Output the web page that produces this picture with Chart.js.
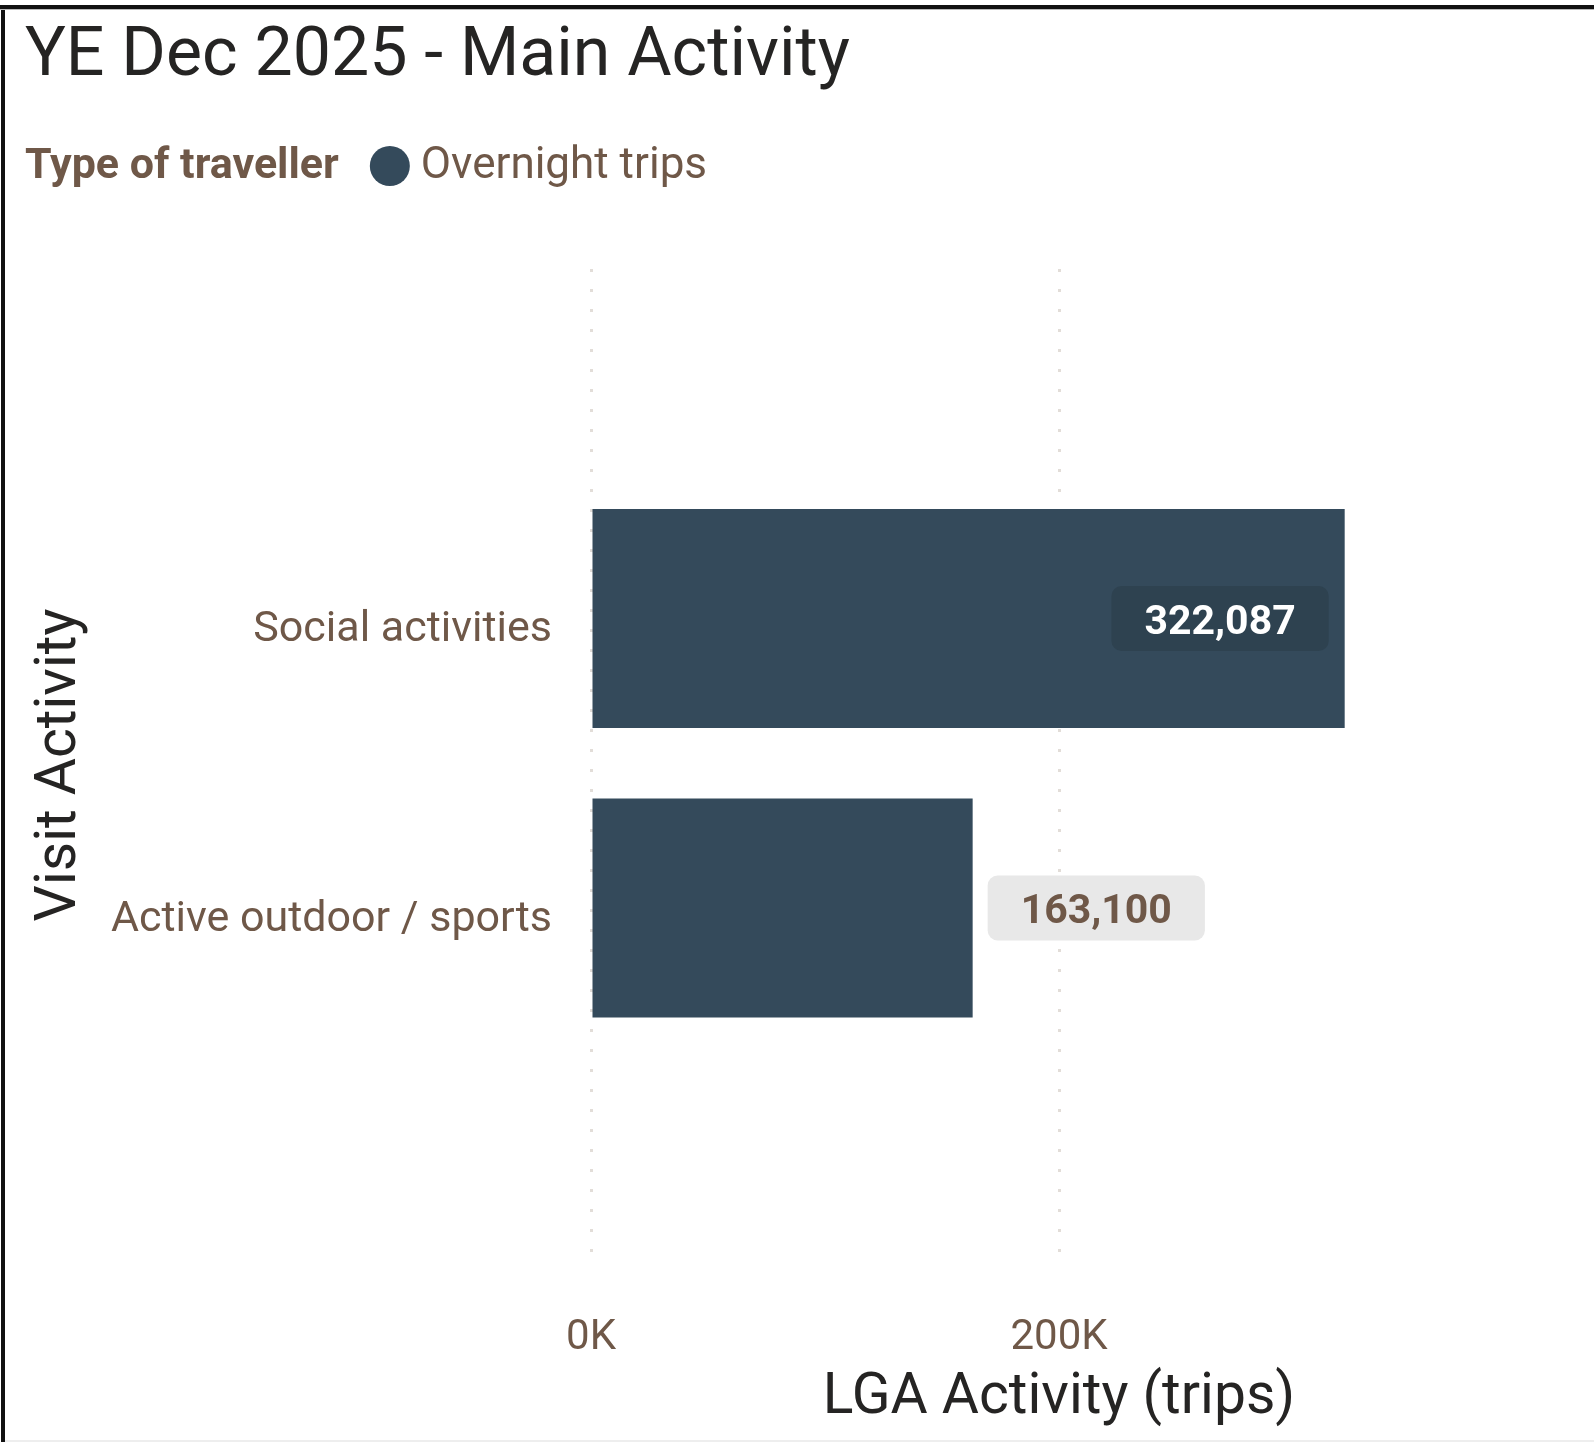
<!DOCTYPE html>
<html>
<head>
<meta charset="utf-8">
<title>YE Dec 2025 - Main Activity</title>
<script src="https://cdn.jsdelivr.net/npm/chart.js@4"></script>
<style>
  html, body { margin: 0; padding: 0; background: #ffffff; overflow: hidden; }
  #wrap { position: relative; width: 1594px; height: 1442px; }
</style>
</head>
<body>
<div id="wrap"><canvas id="c"></canvas></div>
<script>
// ---- chart data ----
const chartTitle = 'YE Dec 2025 - Main Activity';
const legendTitle = 'Type of traveller';
const seriesName = 'Overnight trips';
const categories = ['Social activities', 'Active outdoor / sports'];
const overnightTrips = [322087, 163100];
const xTickValues = [0, 200000];
const xAxisMax = 400000;
const xAxisTitle = 'LGA Activity (trips)';
const yAxisTitle = 'Visit Activity';

// ---- palette ----
const BAR = '#344a5b';
const BROWN = '#6f5848';
const INK = '#252423';
const GRID = '#e2ddd8';
const FONT = 'Roboto, "Open Sans", sans-serif';

Chart.defaults.font.family = FONT;

// white page with the frame lines at the top and left
const frame = {
  id: 'frame',
  beforeDraw(chart) {
    const { ctx, width, height } = chart;
    ctx.save();
    ctx.fillStyle = '#ffffff';
    ctx.fillRect(0, 0, width, height);
    ctx.restore();
  },
  afterDraw(chart) {
    const { ctx, width, height } = chart;
    ctx.save();
    ctx.fillStyle = '#111111';
    ctx.fillRect(0, 5, width, 4);
    ctx.fillRect(1, 5, 4, height - 5);
    ctx.fillStyle = '#b8b8b8';
    ctx.fillRect(0, 9, width, 1);
    ctx.fillStyle = '#eeeeee';
    ctx.fillRect(5, height - 2, width - 5, 2);
    ctx.restore();
  }
};

// legend row: bold caption, dot, series name
const legendRow = {
  id: 'legendRow',
  afterDraw(chart) {
    const ctx = chart.ctx;
    const ds = chart.data.datasets[0];
    const x0 = 25, cy = 166, r = 20;
    ctx.save();
    ctx.textBaseline = 'middle';
    ctx.textAlign = 'left';
    ctx.fillStyle = BROWN;
    ctx.font = 'bold 43px ' + FONT;
    ctx.fillText(legendTitle, x0, cy + 1);
    const tw = ctx.measureText(legendTitle).width;
    const cx = x0 + tw + 31 + r;
    ctx.beginPath();
    ctx.arc(cx, cy, r, 0, Math.PI * 2);
    ctx.fillStyle = ds.backgroundColor;
    ctx.fill();
    ctx.fillStyle = BROWN;
    ctx.font = '44px ' + FONT;
    ctx.fillText(ds.label, cx + r + 11, cy + 1);
    ctx.restore();
  }
};

// value badges next to / inside each bar
const valueLabels = {
  id: 'valueLabels',
  afterDatasetsDraw(chart) {
    const ctx = chart.ctx;
    const meta = chart.getDatasetMeta(0);
    const ds = chart.data.datasets[0];
    ctx.save();
    ctx.font = 'bold 41px ' + FONT;
    ctx.textBaseline = 'middle';
    ctx.textAlign = 'center';
    meta.data.forEach((bar, i) => {
      const text = ds.data[i].x.toLocaleString('en-US');
      const w = ctx.measureText(text).width + 66;
      const h = 65;
      const inside = (bar.x - bar.base) > w * 2;
      const bx = inside ? bar.x - 16 - w : bar.x + 15;
      const by = bar.y - h / 2;
      ctx.fillStyle = inside ? '#2e4250' : '#e8e8e8';
      ctx.beginPath();
      ctx.roundRect(bx, by, w, h, 10);
      ctx.fill();
      ctx.fillStyle = inside ? '#ffffff' : BROWN;
      ctx.fillText(text, bx + w / 2, bar.y + 5);
    });
    ctx.restore();
  }
};

new Chart(document.getElementById('c'), {
  type: 'bar',
  data: {
    datasets: [{
      label: seriesName,
      data: overnightTrips.map((v, i) => ({ x: v, y: i })),
      backgroundColor: BAR,
      borderWidth: 0,
      barPercentage: 0.756,
      categoryPercentage: 1
    }]
  },
  plugins: [frame, legendRow, valueLabels],
  options: {
    indexAxis: 'y',
    responsive: true,
    maintainAspectRatio: false,
    animation: false,
    events: [],
    layout: { padding: { left: 25, right: 67, top: 0, bottom: 0 } },
    plugins: {
      legend: { display: false },
      tooltip: { enabled: false },
      title: {
        display: true,
        text: chartTitle,
        align: 'start',
        color: INK,
        font: { size: 68, weight: 'normal', lineHeight: 1.2 },
        padding: { top: 17, bottom: 170.4 }
      }
    },
    scales: {
      x: {
        type: 'linear',
        position: 'bottom',
        min: 0,
        max: xAxisMax,
        afterBuildTicks: s => { s.ticks = xTickValues.map(v => ({ value: v })); },
        afterFit: s => { s.height = 181; },
        grid: { color: GRID, lineWidth: 3, drawTicks: false },
        border: { display: false, dash: [3, 17] },
        ticks: {
          color: BROWN,
          padding: 52,
          font: { size: 42 },
          callback: v => (v / 1000) + 'K'
        },
        title: {
          display: true,
          text: xAxisTitle,
          color: INK,
          font: { size: 57, lineHeight: 1 },
          padding: { top: 0, bottom: 15 }
        }
      },
      y: {
        type: 'linear',
        reverse: true,
        offset: false,
        min: -1.207,
        max: 2.219,
        afterBuildTicks: s => { s.ticks = categories.map((_, i) => ({ value: i })); },
        afterFit: s => { s.width = 566; },
        grid: { display: false, drawTicks: false },
        border: { display: false },
        ticks: {
          color: BROWN,
          padding: 39,
          labelOffset: 12,
          font: { size: 43 },
          callback: v => categories[v] ?? ''
        },
        title: {
          display: true,
          text: yAxisTitle,
          color: INK,
          font: { size: 57, lineHeight: 1 },
          padding: { top: 7, bottom: 0 }
        }
      }
    }
  }
});
</script>
</body>
</html>
